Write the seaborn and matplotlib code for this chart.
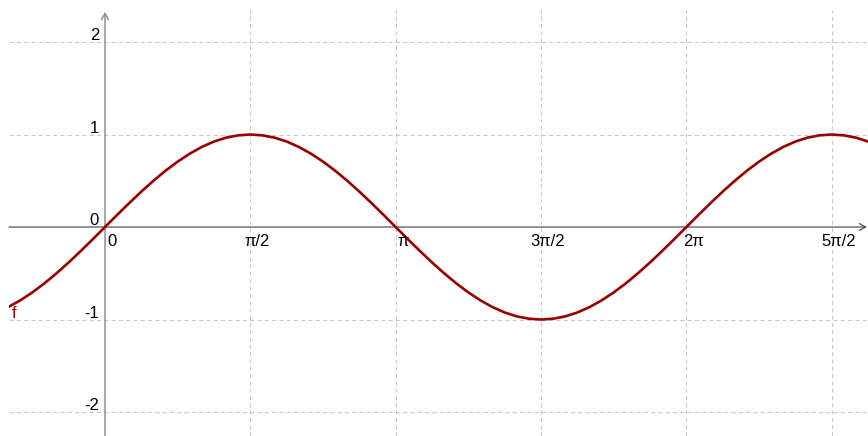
import numpy as np
import pandas as pd
import seaborn as sns
import matplotlib.pyplot as plt

# x positions in 24ths of pi
x_24ths = list(range(-8, 65))
f_values = [-0.866, -0.793, -0.707, -0.609, -0.5, -0.383, -0.259, -0.131,
            0.0, 0.131, 0.259, 0.383, 0.5, 0.609, 0.707, 0.793, 0.866, 0.924, 0.966, 0.991,
            1.0, 0.991, 0.966, 0.924, 0.866, 0.793, 0.707, 0.609, 0.5, 0.383, 0.259, 0.131,
            0.0, -0.131, -0.259, -0.383, -0.5, -0.609, -0.707, -0.793, -0.866, -0.924, -0.966, -0.991,
            -1.0, -0.991, -0.966, -0.924, -0.866, -0.793, -0.707, -0.609, -0.5, -0.383, -0.259, -0.131,
            0.0, 0.131, 0.259, 0.383, 0.5, 0.609, 0.707, 0.793, 0.866, 0.924, 0.966, 0.991,
            1.0, 0.991, 0.966, 0.924, 0.866]

# axis labels
x_half_pi = [0, 1, 2, 3, 4, 5]
x_tick_labels = ['0', 'π/2', 'π', '3π/2', '2π', '5π/2']
y_ticks = [-2, -1, 0, 1, 2]
y_tick_labels = ['-2', '-1', '0', '1', '2']

df = pd.DataFrame({'x': np.array(x_24ths) * np.pi / 24, 'f': f_values})

sns.set_style("white")
plt.rcParams['font.family'] = ['Liberation Sans', 'DejaVu Sans']

fig = plt.figure(figsize=(8.68, 4.36), dpi=100)
ax = fig.add_axes([9 / 868, 0, 859 / 868, 426 / 436])

xmin, xmax = -1.0375, 8.246
ymin, ymax = -2.259, 2.346

# grid
grid_kw = dict(color='#c8c8c8', lw=0.75, ls=(0, (4, 3)), zorder=0)
for k in x_half_pi[1:]:
    ax.axvline(k * np.pi / 2, **grid_kw)
for v in y_ticks:
    if v != 0:
        ax.axhline(v, **grid_kw)

# axes with arrows
ax.annotate('', xy=(0, ymax - 0.02), xytext=(0, ymin),
            arrowprops=dict(arrowstyle='->,head_length=0.45,head_width=0.25',
                            color='#909090', lw=1.1, shrinkA=0, shrinkB=0),
            zorder=1)
ax.annotate('', xy=(8.232, 0), xytext=(xmin, 0),
            arrowprops=dict(arrowstyle='->,head_length=0.45,head_width=0.25',
                            color='#404040', lw=0.8, shrinkA=0, shrinkB=0),
            zorder=1)

# the function
sns.lineplot(data=df, x='x', y='f', ax=ax, color='#990000', linewidth=1.9,
             sort=False, zorder=3)

# tick labels
for k, lab in zip(x_half_pi, x_tick_labels):
    ax.annotate(lab, xy=(k * np.pi / 2, 0), xytext=(5, -14), textcoords='offset points',
                ha='center', va='baseline', fontsize=12, color='black')
for v, lab in zip(y_ticks, y_tick_labels):
    ax.annotate(lab, xy=(0, v), xytext=(-4.3, 1.4), textcoords='offset points',
                ha='right', va='baseline', fontsize=12, color='black')

ax.text(-1.005, -0.984, 'f', color='#990000', fontsize=12, va='baseline', ha='left')

ax.set_xlim(xmin, xmax)
ax.set_ylim(ymin, ymax)
ax.set_xlabel('')
ax.set_ylabel('')
ax.set_xticks([])
ax.set_yticks([])
for s in ax.spines.values():
    s.set_visible(False)

fig.savefig('out.png', dpi=100)
